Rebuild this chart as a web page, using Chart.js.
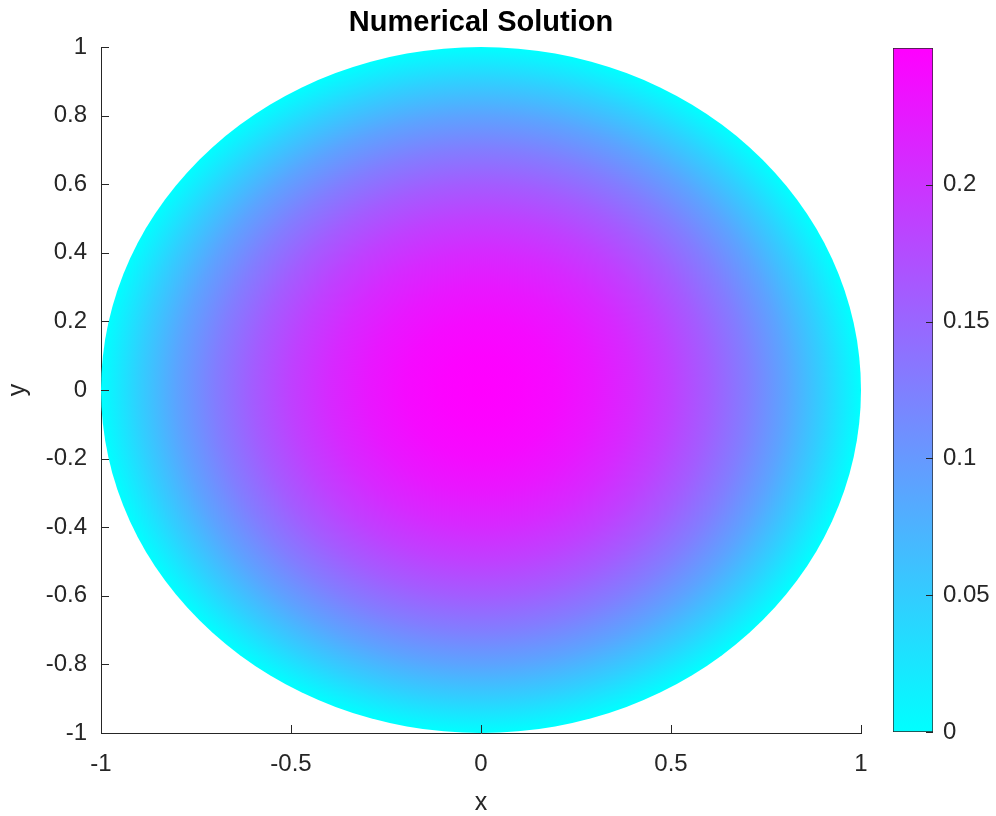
<!DOCTYPE html>
<html>
<head>
<meta charset="utf-8">
<script src="https://cdn.jsdelivr.net/npm/chart.js@4.4.0/dist/chart.umd.min.js"></script>
<style>
  html, body { margin: 0; padding: 0; background: #fff; }
  #wrap { position: relative; width: 996px; height: 816px; }
  #wrap canvas { position: absolute; left: 0; top: 0; }
</style>
</head>
<body>
<div id="wrap">
  <canvas id="plot" width="996" height="816"></canvas>
  <canvas id="cbar" width="996" height="816"></canvas>
</div>
<script>
const titleText = 'Numerical Solution';
const xLabel = 'x';
const yLabel = 'y';
const xTicks = [-1, -0.5, 0, 0.5, 1];
const yTicks = [-1, -0.8, -0.6, -0.4, -0.2, 0, 0.2, 0.4, 0.6, 0.8, 1];

// solution read along a radius of the unit disk (centre -> rim)
const radiusSamples = [0, 0.1, 0.2, 0.3, 0.4, 0.5, 0.6, 0.7, 0.8, 0.9, 1];
const solutionValues = [0.25, 0.2475, 0.24, 0.2275, 0.21, 0.1875, 0.16, 0.1275, 0.09, 0.0475, 0];

// colorbar
const cbTicks = [0, 0.05, 0.1, 0.15, 0.2];
const cbMin = 0;
const cbMax = 0.25;
const coolLow = [0, 255, 255];
const coolHigh = [255, 0, 255];

const axisColor = '#262626';
const fontFamily = "'Liberation Sans', Arial, Helvetica, sans-serif";
Chart.defaults.font.family = fontFamily;

function coolColor(v) {
    let t = (v - cbMin) / (cbMax - cbMin);
    t = Math.max(0, Math.min(1, t));
    const c = coolLow.map((lo, i) => Math.round(lo + (coolHigh[i] - lo) * t));
    return 'rgb(' + c.join(',') + ')';
}

const diskPlugin = {
    id: 'disk',
    beforeDatasetsDraw(chart) {
        const ctx = chart.ctx;
        const xs = chart.scales.x, ys = chart.scales.y;
        const rMax = radiusSamples[radiusSamples.length - 1];
        const cx = xs.getPixelForValue(0);
        const cy = ys.getPixelForValue(0);
        const rx = xs.getPixelForValue(rMax) - cx;
        const ry = cy - ys.getPixelForValue(rMax);
        ctx.save();
        ctx.translate(cx, cy);
        ctx.scale(rx, ry);
        const g = ctx.createRadialGradient(0, 0, 0, 0, 0, 1);
        radiusSamples.forEach((r, i) => g.addColorStop(r / rMax, coolColor(solutionValues[i])));
        ctx.fillStyle = g;
        ctx.beginPath();
        ctx.arc(0, 0, 1, 0, Math.PI * 2);
        ctx.fill();
        ctx.restore();
    }
};

const plotTicks = {
    id: 'plotTicks',
    afterDraw(chart) {
        const ctx = chart.ctx;
        const a = chart.chartArea;
        const xs = chart.scales.x, ys = chart.scales.y;
        ctx.save();
        ctx.strokeStyle = axisColor;
        ctx.lineWidth = 1;
        ctx.beginPath();
        xTicks.forEach(v => {
            const px = Math.round(xs.getPixelForValue(v)) + 0.5;
            ctx.moveTo(px, a.bottom);
            ctx.lineTo(px, a.bottom - 8);
        });
        yTicks.forEach(v => {
            const py = Math.round(ys.getPixelForValue(v)) + 0.5;
            ctx.moveTo(a.left, py);
            ctx.lineTo(a.left + 8, py);
        });
        ctx.stroke();
        // title over the plot area
        ctx.fillStyle = '#000';
        ctx.font = 'bold 29px ' + fontFamily;
        ctx.textAlign = 'center';
        ctx.textBaseline = 'middle';
        ctx.fillText(titleText, (a.left + a.right) / 2, 23);
        ctx.restore();
    }
};

new Chart(document.getElementById('plot'), {
    type: 'scatter',
    data: { datasets: [] },
    options: {
        responsive: false,
        animation: false,
        layout: { padding: { top: 47, right: 135, bottom: 0, left: 0 } },
        plugins: { legend: { display: false }, tooltip: { enabled: false } },
        scales: {
            x: {
                type: 'linear',
                min: -1,
                max: 1,
                afterBuildTicks: s => { s.ticks = xTicks.map(v => ({ value: v })); },
                afterFit: s => { s.height = 83; },
                grid: { display: false, drawTicks: false },
                border: { display: true, color: axisColor, width: 1 },
                ticks: {
                    color: axisColor,
                    font: { size: 24 },
                    padding: 17,
                    maxRotation: 0,
                    callback: v => String(v)
                },
                title: {
                    display: true,
                    text: xLabel,
                    color: axisColor,
                    font: { size: 25, lineHeight: 1 },
                    padding: { top: 0, bottom: 0 }
                }
            },
            y: {
                type: 'linear',
                min: -1,
                max: 1,
                afterBuildTicks: s => { s.ticks = yTicks.map(v => ({ value: v })); },
                afterFit: s => { s.width = 101; },
                grid: { display: false, drawTicks: false },
                border: { display: true, color: axisColor, width: 1 },
                ticks: {
                    color: axisColor,
                    font: { size: 24 },
                    padding: 14,
                    callback: v => String(v)
                },
                title: {
                    display: true,
                    text: yLabel,
                    color: axisColor,
                    font: { size: 25, lineHeight: 1 },
                    padding: { top: 6, bottom: 0 }
                }
            }
        }
    },
    plugins: [diskPlugin, plotTicks]
});

const cbarTicks = {
    id: 'cbarTicks',
    afterDraw(chart) {
        const ctx = chart.ctx;
        const a = chart.chartArea;
        const ys = chart.scales.y;
        ctx.save();
        ctx.strokeStyle = axisColor;
        ctx.lineWidth = 1;
        ctx.beginPath();
        cbTicks.forEach(v => {
            const py = Math.round(ys.getPixelForValue(v)) + 0.5;
            ctx.moveTo(a.right, py);
            ctx.lineTo(a.right - 7, py);
        });
        ctx.stroke();
        ctx.restore();
    }
};

new Chart(document.getElementById('cbar'), {
    type: 'bar',
    data: {
        labels: ['u'],
        datasets: [{
            data: [[cbMin, cbMax]],
            backgroundColor: c => {
                const ch = c.chart;
                if (!ch.chartArea) return coolColor(cbMin);
                const ys = ch.scales.y;
                const g = ch.ctx.createLinearGradient(0, ys.getPixelForValue(cbMin), 0, ys.getPixelForValue(cbMax));
                g.addColorStop(0, coolColor(cbMin));
                g.addColorStop(1, coolColor(cbMax));
                return g;
            },
            borderColor: axisColor,
            borderWidth: 1,
            borderSkipped: false,
            barPercentage: 1,
            categoryPercentage: 1
        }]
    },
    options: {
        responsive: false,
        animation: false,
        layout: { padding: { top: 48, right: 0, bottom: 84, left: 893 } },
        plugins: { legend: { display: false }, tooltip: { enabled: false } },
        scales: {
            x: { display: false },
            y: {
                position: 'right',
                min: cbMin,
                max: cbMax,
                afterBuildTicks: s => { s.ticks = cbTicks.map(v => ({ value: v })); },
                afterFit: s => { s.width = 63; },
                grid: { display: false, drawTicks: false },
                border: { display: false },
                ticks: {
                    color: axisColor,
                    font: { size: 24 },
                    padding: 10,
                    callback: v => String(v)
                }
            }
        }
    },
    plugins: [cbarTicks]
});
</script>
</body>
</html>
